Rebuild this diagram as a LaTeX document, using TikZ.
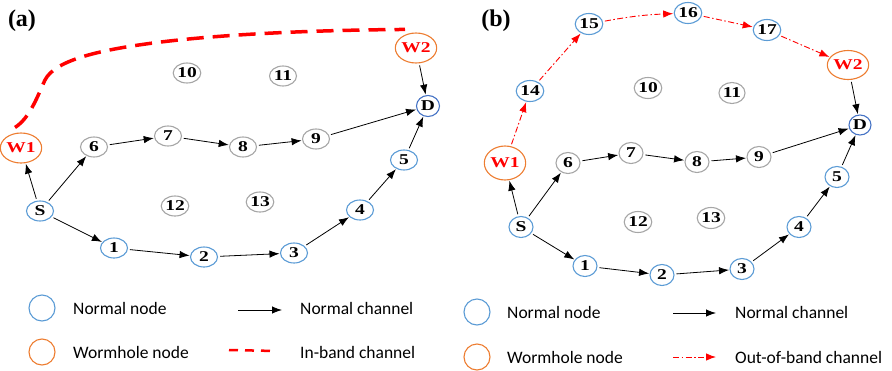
\documentclass[tikz,border=0pt]{standalone}
\usepackage{fontspec}
\setmainfont{Liberation Serif}
\newfontfamily\nfont[FakeStretch=1.3]{Liberation Serif}
\newfontfamily\legfont{Carlito}
\usetikzlibrary{shapes.geometric,arrows.meta,calc}
\definecolor{nblue}{HTML}{5B9BD5}
\definecolor{ngrey}{HTML}{A6A6A6}
\definecolor{dblue}{HTML}{4472C4}
\definecolor{worange}{HTML}{ED7D31}
\begin{document}
\begin{tikzpicture}[x=1pt,y=-1pt,
  nd/.style={ellipse, draw, line width=1.1pt, inner sep=0pt, minimum width=27pt, minimum height=20pt, font=\nfont\fontsize{15}{16}\selectfont\bfseries},
  ndb/.style={nd, minimum width=24pt, minimum height=21pt},
  bl/.style={draw=nblue},
  gr/.style={draw=ngrey},
  dd/.style={draw=dblue},
  wh/.style={draw=worange, text=red},
  arr/.style={-{Latex[length=10pt,width=7.5pt]}, line width=0.8pt, shorten <=2pt, shorten >=0.5pt},
  oob/.style={-{Latex[length=10pt,width=7.5pt]}, red, line width=0.9pt, dash pattern=on 6pt off 2.5pt on 1.5pt off 2.5pt, shorten <=2pt, shorten >=0.5pt},
  inband/.style={red, line width=3.5pt, dash pattern=on 17pt off 9pt},
  lab/.style={font=\fontsize{24}{26}\selectfont\bfseries},
  legtxt/.style={anchor=west, inner sep=0pt, font=\legfont\fontsize{17.5}{19}\selectfont},
  legc/.style={circle, draw, line width=1.1pt, minimum size=26pt, inner sep=0pt}
]
\useasboundingbox (0,0) rectangle (892,370);

% ---------- panel (a) ----------
\node[lab] (la) at (22,21) {(a)};
\node[nd,wh,minimum width=39pt,minimum height=30pt] (W1a) at (21,148) {W1};
\node[nd,wh,minimum width=35pt,minimum height=30pt] (W2a) at (416,48) {W2};
\node[nd,dd,minimum width=23pt,minimum height=21pt] (Da) at (428,106) {D};
\node[nd,bl] (Sa) at (40,211) {S};
\node[nd,bl] (1a) at (114,248) {1};
\node[nd,bl] (2a) at (204,257) {2};
\node[nd,bl] (3a) at (294,253) {3};
\node[nd,bl] (4a) at (360,210) {4};
\node[nd,bl] (5a) at (404,160) {5};
\node[nd,gr] (6a) at (94,147) {6};
\node[nd,gr] (7a) at (168,136) {7};
\node[nd,gr] (8a) at (243,147) {8};
\node[nd,gr] (9a) at (316,139) {9};
\node[nd,gr] (10a) at (187,73) {10};
\node[nd,gr] (11a) at (283,76) {11};
\node[nd,gr] (12a) at (175,206) {12};
\node[nd,gr] (13a) at (260,202) {13};

\draw[arr] (Sa) -- (W1a);
\draw[arr] (Sa) -- (6a);
\draw[arr] (Sa) -- (1a);
\draw[arr] (6a) -- (7a);
\draw[arr] (7a) -- (8a);
\draw[arr] (8a) -- (9a);
\draw[arr] (9a) -- (Da);
\draw[arr] (1a) -- (2a);
\draw[arr] (2a) -- (3a);
\draw[arr] (3a) -- (4a);
\draw[arr] (4a) -- (5a);
\draw[arr] (5a) -- (Da);
\draw[arr] (W2a) -- (Da);
\draw[inband] ($(W1a.north)+(-6,-5)$) .. controls (30,118) and (38,95) .. (45,80)
   .. controls (55,60) and (100,50) .. (153,43)
   .. controls (230,33) and (330,30) .. ($(W2a.north)+(-11,-3)$);

% ---------- panel (b) ----------
\node[lab] (lb) at (496,21) {(b)};
\node[ndb,wh,minimum width=37pt,minimum height=34pt] (W1b) at (505,163) {W1};
\node[ndb,wh,minimum width=34pt,minimum height=29pt] (W2b) at (848,65) {W2};
\node[ndb,dd,minimum width=22pt,minimum height=20pt] (Db) at (860,125) {D};
\node[ndb,bl] (Sb) at (521,227) {S};
\node[ndb,bl] (1b) at (585,266) {1};
\node[ndb,bl] (2b) at (662,275) {2};
\node[ndb,bl] (3b) at (742,269) {3};
\node[ndb,bl] (4b) at (799,227) {4};
\node[ndb,bl] (5b) at (837,177) {5};
\node[ndb,gr] (6b) at (568,163) {6};
\node[ndb,gr] (7b) at (631,153) {7};
\node[ndb,gr] (8b) at (697,162) {8};
\node[ndb,gr] (9b) at (759,157) {9};
\node[ndb,gr] (10b) at (648,88) {10};
\node[ndb,gr] (11b) at (732,93) {11};
\node[ndb,gr] (12b) at (638,222) {12};
\node[ndb,gr] (13b) at (711,218) {13};
\node[ndb,bl] (14b) at (530,91) {14};
\node[ndb,bl] (15b) at (589,24) {15};
\node[ndb,bl] (16b) at (688,13) {16};
\node[ndb,bl] (17b) at (767,30) {17};

\draw[arr] (Sb) -- (W1b);
\draw[arr] (Sb) -- (6b);
\draw[arr] (Sb) -- (1b);
\draw[arr] (6b) -- (7b);
\draw[arr] (7b) -- (8b);
\draw[arr] (8b) -- (9b);
\draw[arr] (9b) -- (Db);
\draw[arr] (1b) -- (2b);
\draw[arr] (2b) -- (3b);
\draw[arr] (3b) -- (4b);
\draw[arr] (4b) -- (5b);
\draw[arr] (5b) -- (Db);
\draw[arr] (W2b) -- (Db);
\draw[oob] (W1b) -- (14b);
\draw[oob] (14b) -- (15b);
\draw[oob] (15b) to[bend left=4] (16b);
\draw[oob] (16b) -- (17b);
\draw[oob] (17b) -- (W2b);

% ---------- legend (a) ----------
\node[legc,draw=nblue] (lna) at (42,308) {};
\node[legtxt] (tna) at (73,308) {Normal node};
\coordinate (ac1) at (238,310);
\coordinate (ac2) at (282,310);
\draw[-{Latex[length=10pt,width=7.5pt]}, line width=0.8pt] (ac1) -- (ac2);
\node[legtxt] (tca) at (300,308) {Normal channel};
\node[legc,draw=worange] (lwa) at (42,352) {};
\node[legtxt] (twa) at (73,352) {Wormhole node};
\coordinate (ib1) at (229,350);
\coordinate (ib2) at (276,351);
\draw[red, line width=2.5pt, dash pattern=on 9pt off 7pt] (ib1) -- (ib2);
\node[legtxt] (tia) at (300,352) {In-band channel};

% ---------- legend (b) ----------
\node[legc,draw=nblue] (lnb) at (477,312) {};
\node[legtxt] (tnb) at (507,312) {Normal node};
\coordinate (bc1) at (673,313);
\coordinate (bc2) at (716,313);
\draw[-{Latex[length=10pt,width=7.5pt]}, line width=0.8pt] (bc1) -- (bc2);
\node[legtxt] (tcb) at (735,312) {Normal channel};
\node[legc,draw=worange] (lwb) at (477,357) {};
\node[legtxt] (twb) at (507,357) {Wormhole node};
\coordinate (ob1) at (673,357);
\coordinate (ob2) at (716,357);
\draw[oob, shorten <=0pt, shorten >=0pt] (ob1) -- (ob2);
\node[legtxt] (tob) at (735,357) {Out-of-band channel};
\end{tikzpicture}
\end{document}
